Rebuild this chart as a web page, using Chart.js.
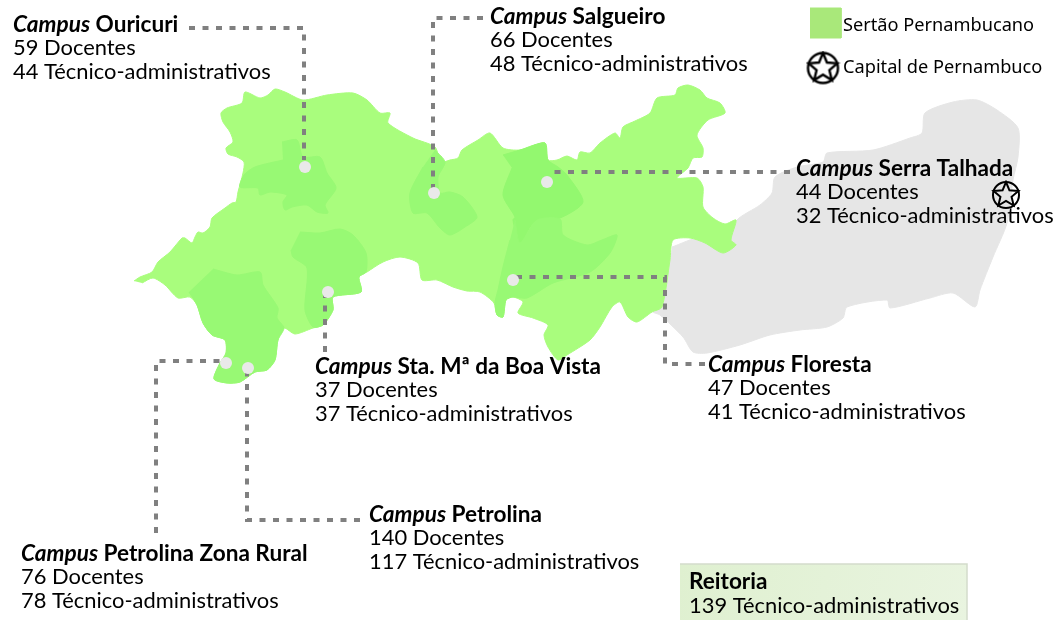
<!DOCTYPE html>
<html><head><meta charset="utf-8">
<style>html,body{margin:0;padding:0;background:#fff}#box{width:1054px;height:620px;overflow:hidden}</style>
<script src="https://cdn.jsdelivr.net/npm/chart.js@4"></script>
</head><body><div id="box"><canvas id="c" width="1054" height="620"></canvas></div>
<script>
const campusNames=["Ouricuri","Salgueiro","Serra Talhada","Floresta","Sta. Mª da Boa Vista","Petrolina","Petrolina Zona Rural"];
const docentes=[59,66,44,47,37,140,76];
const tecnicos=[44,48,32,41,37,117,78];
const reitoriaTecnicos=139;
const legendLabels=["Sertão Pernambucano","Capital de Pernambuco"];

const toPts=a=>a.map(p=>({x:p[0],y:p[1]}));
const restOfState=[[672,247],[700,238],[722,253],[735,245],[730,240],[737,220],[760,205],[772,193],[775,177],[797,167],[823,162],[827,153],[873,150],[910,138],[922,133],[925,113],[953,102],[977,100],[997,110],[1018,128],[1018,157],[1013,180],[1007,223],[993,257],[980,290],[975,307],[953,293],[930,298],[890,308],[887,300],[847,307],[843,318],[827,327],[800,330],[770,335],[740,345],[707,353],[693,352],[683,337],[660,315],[653,312],[662,307],[670,260]];
const sertao=[[134,281],[140,277],[152,272],[158,262],[170,252],[182,238],[185,238],[192,243],[195,237],[198,232],[203,233],[210,227],[212,218],[225,208],[232,203],[236,202],[238,192],[243,173],[244,162],[237,157],[228,154],[226,148],[233,142],[230,132],[223,122],[221,113],[227,108],[242,103],[245,92],[260,98],[268,95],[275,89],[285,92],[303,100],[327,95],[353,93],[367,100],[380,113],[390,113],[388,123],[413,138],[435,147],[441,162],[450,160],[458,158],[462,150],[478,140],[490,133],[503,148],[520,150],[535,145],[545,143],[548,160],[557,160],[567,156],[577,160],[580,152],[590,153],[600,143],[615,133],[620,138],[623,127],[635,121],[650,113],[657,98],[675,95],[678,88],[688,85],[700,90],[707,98],[720,103],[725,113],[708,120],[697,135],[703,148],[702,157],[693,158],[688,168],[677,178],[697,178],[703,187],[703,207],[713,218],[725,224],[736,220],[731,240],[736,245],[723,253],[705,243],[690,238],[673,240],[670,260],[662,307],[652,312],[637,322],[628,317],[620,302],[612,307],[600,327],[590,340],[567,355],[558,360],[548,347],[544,335],[548,325],[533,318],[518,313],[523,302],[513,297],[506,300],[503,317],[497,315],[494,303],[480,292],[467,291],[453,287],[437,280],[422,280],[418,263],[400,257],[383,262],[367,272],[359,277],[361,292],[333,297],[333,310],[323,325],[313,328],[295,334],[284,328],[278,340],[275,360],[267,370],[255,372],[240,382],[227,383],[214,379],[220,363],[226,353],[225,340],[212,335],[203,323],[197,305],[190,297],[178,298],[165,285],[153,278],[142,283]];
const ouricuriArea=[[282,142],[297,140],[303,157],[320,157],[327,173],[336,188],[325,205],[328,213],[317,212],[307,205],[292,207],[285,210],[283,202],[287,195],[270,192],[260,195],[258,188],[240,187],[244,175],[255,167],[283,160]];
const petrolinaArea=[[213,269],[237,275],[260,272],[263,285],[278,308],[277,318],[284,328],[278,340],[275,360],[267,370],[255,372],[240,382],[227,383],[214,379],[220,363],[226,353],[225,340],[212,335],[203,323],[197,305],[189,292]];
const boaVistaArea=[[300,232],[320,233],[340,229],[353,235],[366,253],[366,272],[359,277],[361,292],[333,297],[333,310],[323,325],[313,327],[305,310],[307,268],[293,257],[291,250]];
const salgueiroArea=[[423,167],[410,193],[413,213],[427,213],[440,228],[450,235],[465,227],[477,217],[463,197],[450,192],[440,193],[438,177],[445,162],[435,150]];
const serraArea=[[503,155],[520,150],[545,143],[548,160],[558,167],[567,175],[583,202],[560,218],[537,220],[530,227],[520,243],[513,220],[515,217],[503,195],[512,168]];
const florestaArea=[[515,220],[520,243],[537,220],[560,219],[563,235],[587,245],[602,240],[617,235],[610,253],[590,272],[553,283],[527,298],[513,297],[506,300],[503,317],[497,315],[495,303],[498,290],[503,267],[510,240]];
const leaderLines=[
 [[189,28],[304,28],[304,160]],
 [[483,18],[433,18],[433,190]],
 [[790,172],[549,172]],
 [[705,364],[665,364],[665,277],[510,277]],
 [[325,352],[325,290]],
 [[360,520],[247,520],[247,368]],
 [[156,533],[156,361],[222,361]]
];
const campusDots=[[305,167],[434,193],[547,182],[513,280],[328,292],[226,363],[248,368]];
const legendSwatch=[[810,8],[841,8],[841,38],[810,38]];
const reitoriaBox=[[680,564],[967,564],[967,640],[680,640]];
const capitalMarks=[[1006,195],[823,68]];
const labelAnchors=[[13,32],[490,24],[796,176],[708,372],[315,374],[369,522],[21,561]];

const GREEN='#a9fd7d',DARK='#98f974',GREY='#e6e6e6',DASH='#808080';
function starIcon(r,lw){
  const s=Math.ceil(r*2+lw+2),cv=document.createElement('canvas');cv.width=cv.height=s;
  const g=cv.getContext('2d'),c=s/2;g.strokeStyle='#000';g.lineWidth=lw;
  g.beginPath();g.arc(c,c,r,0,Math.PI*2);g.stroke();
  g.beginPath();
  for(let i=0;i<10;i++){const a=-Math.PI/2+i*Math.PI/5,q=(i%2?0.45:1)*r;g.lineTo(c+q*Math.cos(a),c+q*Math.sin(a));}
  g.closePath();g.stroke();return cv;
}
const area=(data,color)=>({data:toPts(data),showLine:true,fill:'shape',backgroundColor:color,borderColor:color,borderWidth:1,pointRadius:0,tension:0.25,clip:false});
const line=d=>({data:toPts(d),showLine:true,fill:false,borderColor:DASH,borderWidth:4,borderDash:[6,7.5],pointRadius:0,tension:0,clip:false});
const cv=document.getElementById('c');
const grad=cv.getContext('2d').createLinearGradient(680,564,967,620);
grad.addColorStop(0,'#dff0d0');grad.addColorStop(1,'#e9f4e0');
const ds=[
 area(restOfState,GREY),area(sertao,GREEN),
 area(ouricuriArea,DARK),area(petrolinaArea,DARK),area(boaVistaArea,DARK),area(salgueiroArea,DARK),area(serraArea,'#93f86f'),area(florestaArea,DARK),
 {...area(legendSwatch,'#a9e87a'),tension:0},
 {...area(reitoriaBox,grad),borderColor:'#d3dccb',borderWidth:1.5,tension:0},
 ...leaderLines.map(line),
 {data:toPts(campusDots),showLine:false,pointStyle:'circle',pointRadius:6,pointBackgroundColor:'#e9e9e9',pointBorderWidth:0,clip:false},
 {data:toPts([capitalMarks[0]]),showLine:false,pointStyle:starIcon(13,2),clip:false},
 {data:toPts([capitalMarks[1]]),showLine:false,pointStyle:starIcon(15,2.4),clip:false}
];
ds.forEach((d,i)=>d.order=ds.length-i);

const BODY='Lato',LH=23.4,SIZE=21.9,BOLD=22.6;
const textPlugin={id:'mapText',afterDraw(ch){
  const g=ch.ctx,X=ch.scales.x,Y=ch.scales.y;
  g.save();g.fillStyle='#000';g.textBaseline='alphabetic';g.textAlign='left';
  const put=(t,x,y,font)=>{g.font=font;g.fillText(t,x,y);return g.measureText(t).width;};
  campusNames.forEach((n,i)=>{
    const x=X.getPixelForValue(labelAnchors[i][0]),y=Y.getPixelForValue(labelAnchors[i][1]);
    const w=put('Campus',x,y,`italic 700 ${BOLD}px ${BODY}`);
    put(' '+n,x+w,y,`700 ${BOLD}px ${BODY}`);
    put(docentes[i]+' Docentes',x,y+LH,`400 ${SIZE}px ${BODY}`);
    put(tecnicos[i]+' Técnico-administrativos',x,y+2*LH,`400 ${SIZE}px ${BODY}`);
  });
  put('Reitoria',X.getPixelForValue(689),Y.getPixelForValue(589),`700 ${BOLD}px ${BODY}`);
  put(reitoriaTecnicos+' Técnico-administrativos',X.getPixelForValue(689),Y.getPixelForValue(613),`400 ${SIZE}px ${BODY}`);
  put(legendLabels[0],X.getPixelForValue(843),Y.getPixelForValue(31),'400 18.2px "Noto Sans"');
  put(legendLabels[1],X.getPixelForValue(843),Y.getPixelForValue(73),'400 18.2px "Noto Sans"');
  g.restore();
}};
new Chart(cv,{type:'scatter',data:{datasets:ds},plugins:[textPlugin],options:{
  responsive:false,animation:false,events:[],
  layout:{padding:0,autoPadding:false},
  plugins:{legend:{display:false},tooltip:{enabled:false},title:{display:false}},
  scales:{x:{type:'linear',min:0,max:1054,display:false},y:{type:'linear',min:0,max:620,reverse:true,display:false}}
}});
</script></body></html>
